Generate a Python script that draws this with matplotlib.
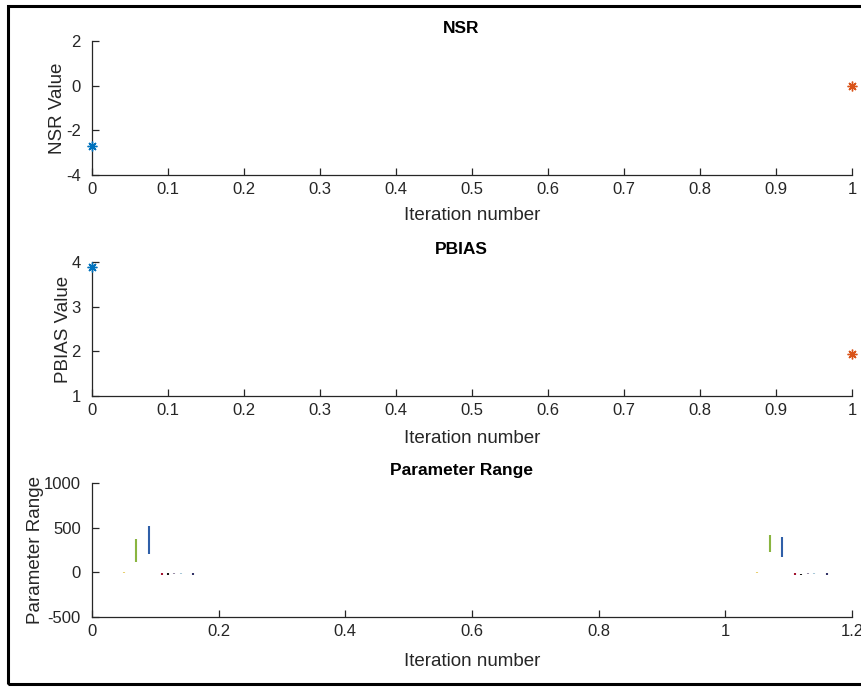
import matplotlib
matplotlib.use("Agg")
import matplotlib.pyplot as plt
from matplotlib.patches import Rectangle

plt.rcParams['font.family'] = ['Liberation Sans', 'DejaVu Sans']
plt.rcParams['axes.unicode_minus'] = False

# Objective values per iteration
iterations = [0, 1]
nsr_values = [-2.7, 0.0]
pbias_values = [3.89, 1.95]
point_colors = ["#0072BD", "#D95319"]

# Parameter ranges: each parameter is drawn at iteration + offset
param_offsets = [0.05, 0.07, 0.09, 0.11, 0.12, 0.13, 0.14, 0.16]
param_colors = ["#E8D070", "#8AB540", "#2F5FA8", "#A2142F", "#1A1A1A",
                "#9A8FA8", "#A8C8D8", "#333366"]
lower_iter0 = [-12, 120, 200, -25, -30, -20, -15, -25]
upper_iter0 = [0, 375, 520, -5, -10, -5, -5, -5]
lower_iter1 = [-12, 230, 175, -25, -35, -20, -15, -25]
upper_iter1 = [0, 420, 400, -5, -15, -5, -5, -5]
param_lower = [lower_iter0, lower_iter1]
param_upper = [upper_iter0, upper_iter1]

nsr_ticks = [-4, -2, 0, 2]
pbias_ticks = [1, 2, 3, 4]
range_ticks = [-500, 0, 500, 1000]
xticks_metric = [i / 10 for i in range(11)]
xticks_range = [0, 0.2, 0.4, 0.6, 0.8, 1, 1.2]

W, H = 862, 687
fig = plt.figure(figsize=(W / 100, H / 100), dpi=100)
ink = "#262626"


def frac(left, top, right, bottom):
    return [left / W, 1 - bottom / H, (right - left) / W, (bottom - top) / H]


def style(ax, xticks, yticks, title, ylabel, xpad):
    for s in ("top", "right"):
        ax.spines[s].set_visible(False)
    for s in ("left", "bottom"):
        ax.spines[s].set_color(ink)
        ax.spines[s].set_linewidth(0.9)
    ax.tick_params(direction="in", length=5, width=0.9, colors=ink,
                   labelsize=12)
    ax.tick_params(axis="y", pad=8)
    ax.tick_params(axis="x", pad=5)
    ax.set_xticks(xticks)
    ax.set_xticklabels([f"{t:g}" for t in xticks])
    ax.set_yticks(yticks)
    ax.set_yticklabels([f"{t:g}" for t in yticks])
    ax.set_title(title, fontsize=12.5, fontweight="bold", color="black",
                 pad=6, x=0.486)
    ax.set_xlabel("Iteration number", fontsize=13.5, color=ink,
                  labelpad=xpad)
    ax.set_ylabel(ylabel, fontsize=13.5, color=ink, labelpad=0)


ax1 = fig.add_axes(frac(92, 41, 852, 175))
ax1.set_xlim(0, 1)
ax1.set_ylim(-4, 2)
for x, v, c in zip(iterations, nsr_values, point_colors):
    ax1.plot([x], [v], marker=(8, 2, 0), markersize=7, color=c,
             markeredgewidth=1.0, linestyle="none", clip_on=False, zorder=5)
style(ax1, xticks_metric, nsr_ticks, "NSR", "NSR Value", 7)

ax2 = fig.add_axes(frac(92, 262, 852, 396))
ax2.set_xlim(0, 1)
ax2.set_ylim(1, 4)
for x, v, c in zip(iterations, pbias_values, point_colors):
    ax2.plot([x], [v], marker=(8, 2, 0), markersize=7, color=c,
             markeredgewidth=1.0, linestyle="none", clip_on=False, zorder=5)
style(ax2, xticks_metric, pbias_ticks, "PBIAS", "PBIAS Value", 9)

ax3 = fig.add_axes(frac(92, 483, 852, 617))
ax3.set_xlim(0, 1.2)
ax3.set_ylim(-500, 1000)
for it, lo, hi in zip(iterations, param_lower, param_upper):
    xs = [it + off for off in param_offsets]
    ax3.vlines(xs, lo, hi, colors=param_colors, linewidth=1.5)
style(ax3, xticks_range, range_ticks, "Parameter Range", "Parameter Range", 10)

# Outer frame around the figure panel
fig.patches.append(Rectangle((8 / W, 3 / H), 1.2, 1 - 9 / H,
                             transform=fig.transFigure, fill=False,
                             edgecolor="black", linewidth=2.2, clip_on=False))

fig.savefig("out.png", dpi=100)
